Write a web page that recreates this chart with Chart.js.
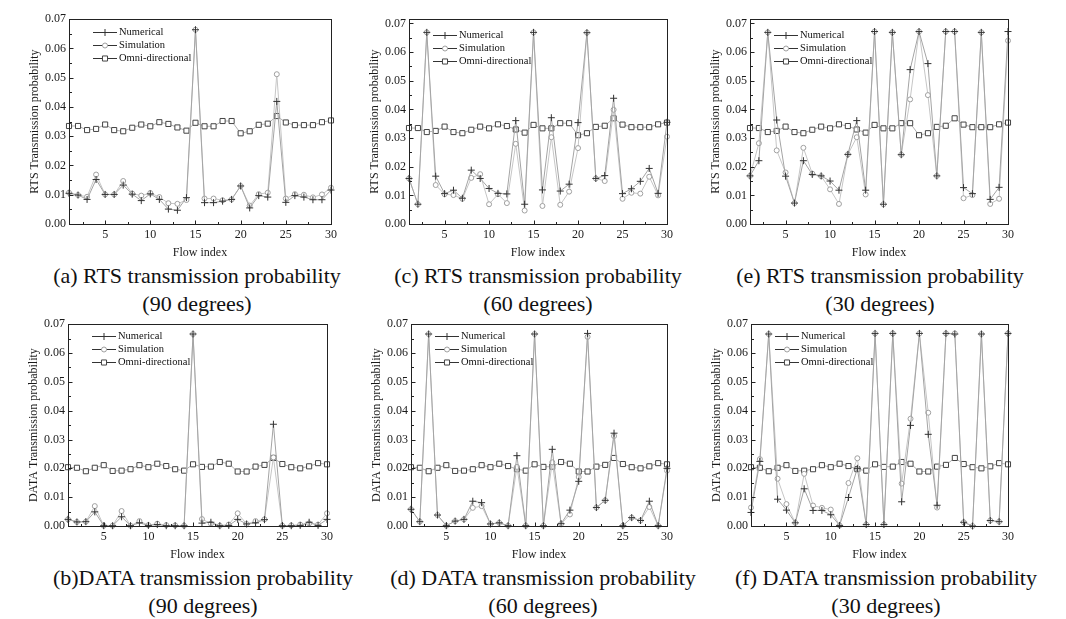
<!DOCTYPE html>
<html>
<head>
<meta charset="utf-8">
<script src="https://cdn.jsdelivr.net/npm/chart.js@4.4.1/dist/chart.umd.min.js"></script>
<style>
  body { margin: 0; background: #fff; width: 1066px; height: 619px; position: relative; overflow: hidden; font-family: "Liberation Serif", serif; }
  canvas { position: absolute; }
  .cap { position: absolute; width: 360px; text-align: center; font-size: 22px; line-height: 28px; color: #111; white-space: nowrap; }
</style>
</head>
<body>
<div class="cap" style="left:17px;top:262px">(a) RTS transmission probability<br>(90 degrees)</div>
<div class="cap" style="left:358px;top:262px">(c) RTS transmission probability<br>(60 degrees)</div>
<div class="cap" style="left:700px;top:262px">(e) RTS transmission probability<br>(30 degrees)</div>
<div class="cap" style="left:23px;top:564px">(b)DATA transmission probability<br>(90 degrees)</div>
<div class="cap" style="left:363px;top:564px">(d) DATA transmission probability<br>(60 degrees)</div>
<div class="cap" style="left:706px;top:564px">(f) DATA transmission probability<br>(30 degrees)</div>
<script>
// flow index on the x axis
const flowIndex = [1, 2, 3, 4, 5, 6, 7, 8, 9, 10, 11, 12, 13, 14, 15, 16, 17, 18, 19, 20, 21, 22, 23, 24, 25, 26, 27, 28, 29, 30];
const xTicks = [5, 10, 15, 20, 25, 30];
const xMinor = [2.5, 7.5, 12.5, 17.5, 22.5, 27.5];
const yTicks = [0, 0.01, 0.02, 0.03, 0.04, 0.05, 0.06, 0.07];
const yMinor = [0.005, 0.015, 0.025, 0.035, 0.045, 0.055, 0.065];
const seriesNames = ['Numerical', 'Simulation', 'Omni-directional'];

// RTS transmission probability
const rtsOmni = [0.0335, 0.0335, 0.0321, 0.0325, 0.0340, 0.0321, 0.0317, 0.0329, 0.0340, 0.0334, 0.0348, 0.0342, 0.0330, 0.0319, 0.0346, 0.0334, 0.0334, 0.0352, 0.0352, 0.0310, 0.0317, 0.0339, 0.0343, 0.0369, 0.0347, 0.0338, 0.0338, 0.0338, 0.0348, 0.0354];
const rtsNum90 = [0.0105, 0.0099, 0.0084, 0.0152, 0.0101, 0.0101, 0.0133, 0.0102, 0.0080, 0.0103, 0.0084, 0.0051, 0.0047, 0.0090, 0.0664, 0.0073, 0.0073, 0.0078, 0.0084, 0.0130, 0.0055, 0.0097, 0.0092, 0.0419, 0.0074, 0.0097, 0.0092, 0.0083, 0.0083, 0.0116];
const rtsSim90 = [0.0107, 0.0099, 0.0093, 0.0169, 0.0101, 0.0101, 0.0147, 0.0104, 0.0097, 0.0106, 0.0092, 0.0071, 0.0069, 0.0082, 0.0664, 0.0087, 0.0087, 0.0081, 0.0084, 0.0130, 0.0063, 0.0102, 0.0107, 0.0512, 0.0087, 0.0102, 0.0100, 0.0091, 0.0101, 0.0124];
const rtsNum60 = [0.0159, 0.0069, 0.0669, 0.0167, 0.0106, 0.0118, 0.0090, 0.0188, 0.0159, 0.0124, 0.0107, 0.0105, 0.0361, 0.0069, 0.0669, 0.0119, 0.0371, 0.0115, 0.0139, 0.0354, 0.0668, 0.0159, 0.0169, 0.0439, 0.0106, 0.0123, 0.0149, 0.0194, 0.0107, 0.0355];
const rtsSim60 = [0.0159, 0.0069, 0.0669, 0.0136, 0.0104, 0.0101, 0.0088, 0.0161, 0.0174, 0.0069, 0.0104, 0.0073, 0.0280, 0.0047, 0.0669, 0.0063, 0.0303, 0.0067, 0.0113, 0.0265, 0.0668, 0.0159, 0.0150, 0.0399, 0.0088, 0.0109, 0.0106, 0.0165, 0.0100, 0.0305];
const rtsNum30 = [0.0168, 0.0221, 0.0669, 0.0363, 0.0167, 0.0073, 0.0221, 0.0173, 0.0168, 0.0150, 0.0118, 0.0243, 0.0361, 0.0118, 0.0672, 0.0069, 0.0669, 0.0242, 0.0539, 0.0672, 0.0560, 0.0168, 0.0672, 0.0672, 0.0127, 0.0106, 0.0669, 0.0086, 0.0128, 0.0672];
const rtsSim30 = [0.0168, 0.0282, 0.0669, 0.0257, 0.0180, 0.0073, 0.0266, 0.0176, 0.0167, 0.0121, 0.0070, 0.0243, 0.0303, 0.0103, 0.0672, 0.0069, 0.0669, 0.0242, 0.0435, 0.0672, 0.0450, 0.0168, 0.0672, 0.0672, 0.0090, 0.0101, 0.0669, 0.0070, 0.0088, 0.0640];

// DATA transmission probability
const dataOmni = [0.0204, 0.0202, 0.0190, 0.0202, 0.0211, 0.0191, 0.0192, 0.0197, 0.0211, 0.0204, 0.0216, 0.0208, 0.0197, 0.0192, 0.0214, 0.0205, 0.0206, 0.0222, 0.0216, 0.0189, 0.0189, 0.0206, 0.0212, 0.0236, 0.0215, 0.0204, 0.0200, 0.0207, 0.0218, 0.0214];
const dataNum90 = [0.0023, 0.0014, 0.0015, 0.0049, 0.0001, 0.0001, 0.0032, 0.0001, 0.0011, 0.0002, 0.0005, 0.0001, 0.0001, 0.0001, 0.0666, 0.0010, 0.0013, 0.0001, 0.0002, 0.0023, 0.0007, 0.0011, 0.0022, 0.0353, 0.0001, 0.0001, 0.0002, 0.0013, 0.0002, 0.0023];
const dataSim90 = [0.0023, 0.0014, 0.0015, 0.0069, 0.0001, 0.0001, 0.0052, 0.0001, 0.0017, 0.0003, 0.0008, 0.0003, 0.0002, 0.0001, 0.0666, 0.0024, 0.0008, 0.0001, 0.0005, 0.0044, 0.0007, 0.0017, 0.0023, 0.0238, 0.0001, 0.0002, 0.0005, 0.0009, 0.0005, 0.0044];
const dataNum60 = [0.0058, 0.0015, 0.0666, 0.0038, 0.0001, 0.0017, 0.0023, 0.0086, 0.0081, 0.0007, 0.0011, 0.0001, 0.0244, 0.0001, 0.0666, 0.0001, 0.0266, 0.0008, 0.0055, 0.0155, 0.0668, 0.0064, 0.0089, 0.0322, 0.0001, 0.0029, 0.0019, 0.0086, 0.0001, 0.0200];
const dataSim60 = [0.0058, 0.0015, 0.0666, 0.0038, 0.0001, 0.0017, 0.0023, 0.0063, 0.0069, 0.0007, 0.0011, 0.0001, 0.0205, 0.0001, 0.0666, 0.0001, 0.0221, 0.0007, 0.0040, 0.0170, 0.0656, 0.0064, 0.0089, 0.0312, 0.0001, 0.0029, 0.0019, 0.0066, 0.0001, 0.0192];
const dataNum30 = [0.0047, 0.0224, 0.0666, 0.0093, 0.0055, 0.0011, 0.0129, 0.0054, 0.0054, 0.0039, 0.0002, 0.0099, 0.0200, 0.0005, 0.0668, 0.0005, 0.0668, 0.0084, 0.0349, 0.0668, 0.0318, 0.0072, 0.0668, 0.0666, 0.0013, 0.0000, 0.0666, 0.0019, 0.0015, 0.0668];
const dataSim30 = [0.0064, 0.0232, 0.0666, 0.0164, 0.0076, 0.0011, 0.0181, 0.0071, 0.0063, 0.0057, 0.0002, 0.0149, 0.0235, 0.0005, 0.0668, 0.0005, 0.0668, 0.0147, 0.0372, 0.0668, 0.0393, 0.0064, 0.0668, 0.0668, 0.0013, 0.0000, 0.0666, 0.0019, 0.0015, 0.0668];

Chart.defaults.font.family = '"Liberation Serif", "Times New Roman", serif';
Chart.defaults.color = '#1a1a1a';

const YW = 44, PT = 8, PR = 8, XH = 40;

// frame, inward tick marks and the in-plot legend
const framePlugin = {
  id: 'frame',
  afterDraw(chart, args, opts) {
    const { ctx, chartArea: a, scales: { x, y } } = chart;
    ctx.save();
    ctx.strokeStyle = '#222';
    ctx.lineWidth = 1;
    ctx.strokeRect(Math.round(a.left) + 0.5, Math.round(a.top) + 0.5, Math.round(a.right - a.left), Math.round(a.bottom - a.top));
    ctx.beginPath();
    const bot = Math.round(a.bottom) + 0.5, lft = Math.round(a.left) + 0.5;
    xTicks.forEach(v => { const px = Math.round(x.getPixelForValue(v)) + 0.5; ctx.moveTo(px, bot); ctx.lineTo(px, bot - 4); });
    xMinor.forEach(v => { const px = Math.round(x.getPixelForValue(v)) + 0.5; ctx.moveTo(px, bot); ctx.lineTo(px, bot - 2.5); });
    yTicks.forEach(v => { const py = Math.round(y.getPixelForValue(v)) + 0.5; ctx.moveTo(lft, py); ctx.lineTo(lft + 4, py); });
    yMinor.forEach(v => { const py = Math.round(y.getPixelForValue(v)) + 0.5; ctx.moveTo(lft, py); ctx.lineTo(lft + 2.5, py); });
    ctx.stroke();

    // legend
    ctx.font = '10.5px "Liberation Serif", serif';
    ctx.textBaseline = 'middle';
    chart.data.datasets.forEach((ds, i) => {
      const ly = Math.round(a.top + opts.legendTop + i * 13) + 0.5;
      const x0 = a.left + 24, x1 = x0 + 24, cx = (x0 + x1) / 2;
      ctx.strokeStyle = '#333';
      ctx.beginPath(); ctx.moveTo(x0, ly); ctx.lineTo(x1, ly); ctx.stroke();
      ctx.strokeStyle = ds.pointBorderColor;
      ctx.fillStyle = ds.pointBackgroundColor;
      ctx.beginPath();
      if (ds.pointStyle === 'circle') { ctx.arc(cx, ly, ds.pointRadius, 0, Math.PI * 2); ctx.fill(); ctx.stroke(); }
      else if (ds.pointStyle === 'rect') { const s = ds.pointRadius * Math.SQRT1_2; ctx.rect(cx - s, ly - s, 2 * s, 2 * s); ctx.fill(); ctx.stroke(); }
      else { const r = ds.pointRadius; ctx.moveTo(cx - r, ly); ctx.lineTo(cx + r, ly); ctx.moveTo(cx, ly - r); ctx.lineTo(cx, ly + r); ctx.stroke(); }
      ctx.fillStyle = '#111';
      ctx.fillText(ds.label, x1 + 2, ly);
    });
    ctx.restore();
  }
};

function makeSets(num, sim, omni) {
  const pts = vals => vals.map((v, i) => ({ x: flowIndex[i], y: v }));
  return [
    { label: seriesNames[0], data: pts(num), borderColor: '#a4a4a4', borderWidth: 1, pointStyle: 'cross', pointRadius: 3.5, pointBorderColor: '#333', pointBackgroundColor: '#333', pointBorderWidth: 1, clip: false },
    { label: seriesNames[1], data: pts(sim), borderColor: '#c6c6c6', borderWidth: 1, pointStyle: 'circle', pointRadius: 2.5, pointBorderColor: '#a0a0a0', pointBackgroundColor: '#fff', pointBorderWidth: 1, clip: false },
    { label: seriesNames[2], data: pts(omni), borderColor: '#b0b0b0', borderWidth: 1, pointStyle: 'rect', pointRadius: 3.6, pointBorderColor: '#444', pointBackgroundColor: '#fff', pointBorderWidth: 1, clip: false }
  ];
}

const panels = [
  { box: [69, 17, 333, 224], yMax: 0.07, legendTop: 13, title: 'RTS Transmission probability', sets: makeSets(rtsNum90, rtsSim90, rtsOmni) },
  { box: [409, 17, 669, 224], yMax: 0.0715, legendTop: 16, title: 'RTS Transmission probability', sets: makeSets(rtsNum60, rtsSim60, rtsOmni) },
  { box: [750, 17, 1010, 224], yMax: 0.0715, legendTop: 16, title: 'RTS Transmission probability', sets: makeSets(rtsNum30, rtsSim30, rtsOmni) },
  { box: [68, 322, 329, 526], yMax: 0.07, legendTop: 12, title: 'DATA Transmission probability', sets: makeSets(dataNum90, dataSim90, dataOmni) },
  { box: [411, 322, 669, 526], yMax: 0.07, legendTop: 12, title: 'DATA Transmission probability', sets: makeSets(dataNum60, dataSim60, dataOmni) },
  { box: [751, 322, 1010, 526], yMax: 0.07, legendTop: 12, title: 'DATA Transmission probability', sets: makeSets(dataNum30, dataSim30, dataOmni) }
];

panels.forEach(p => {
  const [l, t, r, b] = p.box;
  const cv = document.createElement('canvas');
  cv.width = YW + (r - l) + PR;
  cv.height = PT + (b - t) + XH;
  cv.style.left = (l - YW) + 'px';
  cv.style.top = (t - PT) + 'px';
  document.body.appendChild(cv);

  new Chart(cv, {
    type: 'line',
    data: { datasets: p.sets },
    options: {
      responsive: false,
      animation: false,
      devicePixelRatio: 1,
      layout: { padding: { top: PT, right: PR, left: 0, bottom: 0 }, autoPadding: false },
      plugins: { legend: { display: false }, tooltip: { enabled: false }, frame: { legendTop: p.legendTop } },
      scales: {
        x: {
          type: 'linear', min: 1, max: 30,
          afterBuildTicks: s => { s.ticks = xTicks.map(v => ({ value: v })); },
          afterFit: s => { s.height = XH; },
          grid: { display: false, drawTicks: false },
          border: { display: false },
          ticks: { padding: 4, maxRotation: 0, autoSkip: false, font: { size: 12 } },
          title: { display: true, text: 'Flow index', font: { size: 12 }, padding: { top: 0, bottom: 4 } }
        },
        y: {
          type: 'linear', min: 0, max: p.yMax,
          afterBuildTicks: s => { s.ticks = yTicks.map(v => ({ value: v })); },
          afterFit: s => { s.width = YW; },
          grid: { display: false, drawTicks: false },
          border: { display: false },
          ticks: { padding: 3, font: { size: 12 }, callback: v => v.toFixed(2) },
          title: { display: true, text: p.title, font: { size: 12 }, padding: { top: 3, bottom: 0 } }
        }
      }
    },
    plugins: [framePlugin]
  });
});
</script>
</body>
</html>
